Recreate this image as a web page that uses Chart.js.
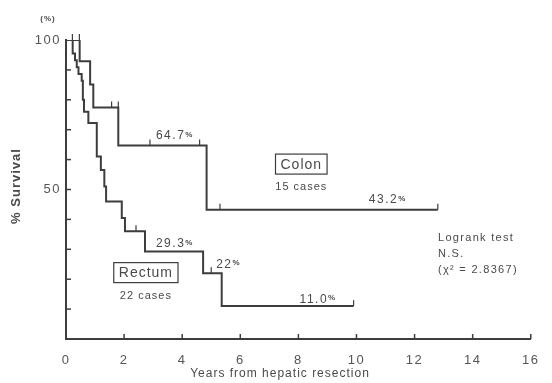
<!DOCTYPE html>
<html>
<head>
<meta charset="utf-8">
<script src="https://cdn.jsdelivr.net/npm/chart.js@4.4.1/dist/chart.umd.min.js"></script>
<style>
  html, body { margin: 0; padding: 0; background: #fff; }
</style>
</head>
<body>
<canvas id="survChart" width="552" height="383"></canvas>
<script>
// Kaplan-Meier curves, years after resection vs % survival
const colonTime = [0, 0.47, 0.83, 0.94, 1.8, 4.84, 12.8];
const colonSurv = [100, 92.9, 85.1, 77.4, 64.7, 43.2, 43.2];
const colonCensorTime = [0.22, 0.46, 1.57, 1.8, 2.89, 4.6, 5.3, 12.8];
const colonCensorSurv = [100, 100, 77.4, 77.4, 64.7, 64.7, 43.2, 43.2];

const rectumTime = [0, 0.23, 0.31, 0.37, 0.43, 0.54, 0.58, 0.62, 0.77, 1.06, 1.2, 1.32, 1.38, 1.92, 2.03, 2.72, 4.72, 5.36, 9.9];
const rectumSurv = [100, 95.5, 93.2, 90.9, 88.6, 86.4, 80, 76, 72.2, 61, 56.5, 51, 46, 40.5, 36, 29.3, 22, 11, 11];
const rectumCensorTime = [2.41, 5.0, 9.9];
const rectumCensorSurv = [36, 22, 11];

const yLabelled = [50, 100];

// value labels written next to the curves
const pctLabels = ["64.7", "43.2", "29.3", "22", "11.0"];
const pctAt = [[3.75, 68], [11.08, 46.5], [3.75, 32], [5.6, 25], [8.68, 13.3]];

const groupNames = ["Colon", "Rectum"];
const groupCases = ["15 cases", "22 cases"];
const groupAt = [[8.1, 58.5], [2.75, 22.2]];

const testLines = ["Logrank test", "N.S.", "(\u03C7\u00B2 = 2.8367)"];

const ink = "#3d3d3d";
const textInk = "#4a4a4a";

function pts(ts, ss) {
  return ts.map((t, i) => ({ x: t, y: ss[i] }));
}

const extras = {
  id: "extras",
  beforeDraw(chart) {
    chart.ctx.letterSpacing = "1.5px";
  },
  afterDatasetsDraw(chart) {
    const ctx = chart.ctx;
    const xs = chart.scales.x;
    const ys = chart.scales.y;
    const area = chart.chartArea;
    ctx.save();
    ctx.strokeStyle = ink;
    ctx.lineWidth = 1.5;

    // inward axis ticks
    for (let v = 10; v < 100; v += 10) {
      const py = ys.getPixelForValue(v);
      ctx.beginPath();
      ctx.moveTo(area.left, py);
      ctx.lineTo(area.left + 5, py);
      ctx.stroke();
    }
    for (let v = 2; v <= 16; v += 2) {
      const px = xs.getPixelForValue(v);
      ctx.beginPath();
      ctx.moveTo(px, area.bottom);
      ctx.lineTo(px, area.bottom - 5);
      ctx.stroke();
    }

    // censor marks
    ctx.lineWidth = 1.2;
    const censor = (ts, ss) => {
      ts.forEach((t, i) => {
        const px = xs.getPixelForValue(t);
        const py = ys.getPixelForValue(ss[i]);
        ctx.beginPath();
        ctx.moveTo(px, py);
        ctx.lineTo(px, py - 6);
        ctx.stroke();
      });
    };
    censor(colonCensorTime, colonCensorSurv);
    censor(rectumCensorTime, rectumCensorSurv);

    ctx.fillStyle = textInk;
    ctx.textBaseline = "middle";

    // percentage labels with small % sign
    pctLabels.forEach((lab, i) => {
      const px = xs.getPixelForValue(pctAt[i][0]);
      const py = ys.getPixelForValue(pctAt[i][1]);
      ctx.font = "12px 'Liberation Sans', Arial, sans-serif";
      ctx.letterSpacing = "1.5px";
      const w1 = ctx.measureText(lab).width;
      ctx.font = "bold 8px 'Liberation Sans', Arial, sans-serif";
      const w2 = ctx.measureText("%").width;
      const x0 = px - (w1 + w2) / 2;
      ctx.textAlign = "left";
      ctx.font = "12px 'Liberation Sans', Arial, sans-serif";
      ctx.fillText(lab, x0, py);
      ctx.font = "bold 8px 'Liberation Sans', Arial, sans-serif";
      ctx.fillText("%", x0 + w1, py - 1);
    });

    // group boxes
    groupNames.forEach((name, i) => {
      const px = xs.getPixelForValue(groupAt[i][0]);
      const py = ys.getPixelForValue(groupAt[i][1]);
      ctx.font = "14px 'Liberation Sans', Arial, sans-serif";
      ctx.letterSpacing = "1px";
      ctx.textAlign = "center";
      const w = ctx.measureText(name).width;
      ctx.fillText(name, px, py + 1);
      ctx.lineWidth = 1.2;
      ctx.strokeRect(px - w / 2 - 5, py - 10, w + 10, 20);
      ctx.font = "11px 'Liberation Sans', Arial, sans-serif";
      ctx.fillText(groupCases[i], px, py + 23);
    });

    // logrank note
    ctx.textAlign = "left";
    ctx.font = "11px 'Liberation Sans', Arial, sans-serif";
    ctx.letterSpacing = "1.3px";
    testLines.forEach((line, i) => {
      ctx.fillText(line, 438, 238 + i * 16);
    });

    // axis titles
    ctx.textAlign = "center";
    ctx.font = "12px 'Liberation Sans', Arial, sans-serif";
    ctx.letterSpacing = "1px";
    ctx.fillText("Years from hepatic resection", 280, 374);
    ctx.font = "bold 8px 'Liberation Sans', Arial, sans-serif";
    ctx.fillText("(%)", 48, 19);
    ctx.translate(16, 186);
    ctx.rotate(-Math.PI / 2);
    ctx.font = "bold 13px 'Liberation Sans', Arial, sans-serif";
    ctx.fillText("% Survival", 0, 0);
    ctx.restore();
  }
};

const survChart = new Chart(document.getElementById("survChart"), {
  type: "line",
  data: {
    datasets: [
      {
        label: "Colon",
        data: pts(colonTime, colonSurv),
        stepped: true,
        borderColor: ink,
        borderWidth: 2,
        pointRadius: 0,
        fill: false,
      },
      {
        label: "Rectum",
        data: pts(rectumTime, rectumSurv),
        stepped: true,
        borderColor: ink,
        borderWidth: 2,
        pointRadius: 0,
        fill: false,
      },
    ],
  },
  options: {
    responsive: false,
    animation: false,
    layout: { padding: { top: 40, right: 21, left: 0, bottom: 0 } },
    plugins: {
      legend: { display: false },
      tooltip: { enabled: false },
    },
    scales: {
      x: {
        type: "linear",
        min: 0,
        max: 16,
        afterFit: (s) => { s.height = 44; },
        grid: { display: false, drawTicks: false },
        border: { display: true, color: ink, width: 2 },
        ticks: {
          stepSize: 2,
          autoSkip: false,
          padding: 14,
          color: "#555",
          font: { family: "'Liberation Sans', Arial, sans-serif", size: 13 },
        },
      },
      y: {
        min: 0,
        max: 100,
        afterFit: (s) => { s.width = 66; },
        grid: { display: false, drawTicks: false },
        border: { display: true, color: ink, width: 2 },
        ticks: {
          stepSize: 10,
          autoSkip: false,
          padding: 5,
          color: "#555",
          font: { family: "'Liberation Sans', Arial, sans-serif", size: 13 },
          callback: (v) => (yLabelled.includes(v) ? v : ""),
        },
      },
    },
  },
  plugins: [extras],
});
</script>
</body>
</html>
